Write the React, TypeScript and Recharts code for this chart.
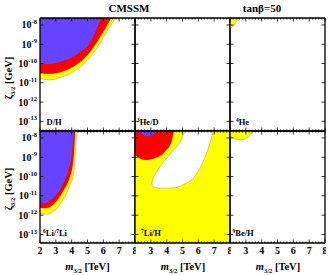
import React from "react"
import { ComposedChart, Area, XAxis, YAxis } from "recharts"

// all y values are log10 of zeta_3/2 in GeV, x values are m_3/2 in TeV
const Y_TOP = -7.64

// D/H
const dhYellowX = [2, 2.6, 3.44, 4.29, 5.02, 5.65, 6.28, 6.77]
const dhYellowLow = [-10.76, -10.85, -10.68, -10.33, -9.81, -9.12, -8.26, -7.64]
const dhRedX = [2, 2.6, 3.44, 4.29, 4.92, 5.55, 6.07, 6.5]
const dhRedLow = [-10.5, -10.54, -10.42, -10.07, -9.64, -8.95, -8.26, -7.64]
const dhBlueX = [2, 2.6, 3.65, 4.5, 5.13, 5.55, 5.87]
const dhBlueLow = [-10.0, -10.02, -9.81, -9.43, -8.95, -8.26, -7.64]

// 4He
const he4YellowX = [2, 2.2, 2.35, 2.53]
const he4YellowLow = [-8.17, -8.05, -7.9, -7.64]
const he4RedX = [2, 2.06, 2.1]
const he4RedLow = [-7.85, -7.75, -7.64]

// 6Li/7Li
const li6YellowX = [2, 2.39, 2.81, 3.44, 3.86, 4.14, 4.24, 4.33]
const li6YellowLow = [-11.9, -11.95, -11.82, -11.21, -10.52, -9.75, -8.71, -7.64]
const li6RedX = [2, 2.39, 2.81, 3.44, 3.86, 4.07, 4.18, 4.22]
const li6RedLow = [-11.61, -11.64, -11.47, -10.78, -10.09, -9.4, -8.36, -7.64]
const li6BlueX = [2, 2.28, 2.6, 3.02, 3.44, 3.76, 3.97, 4.07, 4.14]
const li6BlueLow = [-11.3, -11.38, -11.26, -10.95, -10.44, -9.75, -9.05, -8.36, -7.64]

// 7Li/H
const li7YellowX = [2, 8]
const li7YellowLow = [-13.5, -13.5]
const li7HoleX = [3.05, 3.16, 3.3, 3.6, 4.0, 4.45, 4.9, 5.2, 5.6, 6.2, 6.6, 6.95]
const li7HoleLow = [-10.35, -10.5, -10.56, -10.6, -10.6, -10.58, -10.48, -10.35, -10.15, -9.4, -8.6, -7.64]
const li7HoleHigh = [-10.35, -10.05, -9.85, -9.45, -9.05, -8.6, -8.15, -7.64, -7.64, -7.64, -7.64, -7.64]
const li7RedX = [2, 2.63, 3.26, 3.89, 4.31, 4.45]
const li7RedLow = [-8.88, -9.14, -9.05, -8.71, -8.19, -7.64]
const li7BlueX = [2.25, 2.5, 2.8, 3.1, 3.4]
const li7BlueLow = [-7.64, -7.83, -7.9, -7.83, -7.64]

// 9Be/H
const be9YellowX = [2, 2.3, 2.65, 3.0, 3.25, 3.45]
const be9YellowLow = [-7.9, -8.05, -8.1, -8.02, -7.88, -7.64]

const decadeTicks = [-13, -12, -11, -10, -9, -8]
const massTicks = Array.from({ length: 31 }, (_, i) => Math.round((2 + i * 0.2) * 10) / 10)

const BLUE = "#6644ff"
const RED = "#ff0000"
const YELLOW = "#ffff00"
const FONT = "'Liberation Serif', 'Times New Roman', serif"

// geometry
const PLOT_X = [40, 135, 230]
const PLOT_W = 95
const PLOT_Y = [18, 131]
const PLOT_H = [113, 112]
const Y_MIN = [-13.5, -13.44]
const LEFT_W = 40
const RIGHT_W = 1
const TOP_H = 1
const BOTTOM_H = 30

const above = (xs: number[], lows: number[]) => xs.map((x, i) => ({ x, lo: lows[i], hi: Y_TOP }))
const band = (xs: number[], lows: number[], highs: number[]) => xs.map((x, i) => ({ x, lo: lows[i], hi: highs[i] }))

type Region = { data: { x: number; lo: number; hi: number }[]; fill: string; stroke?: string }

const panels: { col: number; row: number; regions: Region[] }[] = [
  {
    col: 0,
    row: 0,
    regions: [
      { data: above(dhYellowX, dhYellowLow), fill: YELLOW, stroke: "#a8a850" },
      { data: above(dhRedX, dhRedLow), fill: RED },
      { data: above(dhBlueX, dhBlueLow), fill: BLUE },
    ],
  },
  { col: 1, row: 0, regions: [] },
  {
    col: 2,
    row: 0,
    regions: [
      { data: above(he4YellowX, he4YellowLow), fill: YELLOW, stroke: "#a8a850" },
      { data: above(he4RedX, he4RedLow), fill: RED },
    ],
  },
  {
    col: 0,
    row: 1,
    regions: [
      { data: above(li6YellowX, li6YellowLow), fill: YELLOW, stroke: "#a8a850" },
      { data: above(li6RedX, li6RedLow), fill: RED },
      { data: above(li6BlueX, li6BlueLow), fill: BLUE },
    ],
  },
  {
    col: 1,
    row: 1,
    regions: [
      { data: above(li7YellowX, li7YellowLow), fill: YELLOW },
      { data: band(li7HoleX, li7HoleLow, li7HoleHigh), fill: "#ffffff", stroke: "#a8a870" },
      { data: above(li7RedX, li7RedLow), fill: RED },
      { data: above(li7BlueX, li7BlueLow), fill: BLUE },
    ],
  },
  {
    col: 2,
    row: 1,
    regions: [{ data: above(be9YellowX, be9YellowLow), fill: YELLOW, stroke: "#a8a850" }],
  },
]

function Panel({ col, row, regions }: { col: number; row: number; regions: Region[] }) {
  const plotH = PLOT_H[row]
  const plotBottom = TOP_H + plotH
  const plotRight = LEFT_W + PLOT_W
  const axisLine = { stroke: "#000", strokeWidth: 1.3 }

  const bottomTick = (p: any) => {
    const v = p.payload.value
    const major = Math.abs(v - Math.round(v)) < 1e-6
    const showLabel = row === 1 && major && (col === 0 || v !== 2)
    return (
      <g>
        <line x1={p.x} x2={p.x} y1={plotBottom} y2={plotBottom - (major ? 3.5 : 1.5)} stroke="#000" strokeWidth={0.8} />
        {showLabel && (
          <text x={p.x} y={plotBottom + 11} textAnchor="middle" fontSize={10} fontWeight="bold" fontFamily={FONT} fill="#000">
            {v}
          </text>
        )}
      </g>
    )
  }
  const topTick = (p: any) => {
    const v = p.payload.value
    const major = Math.abs(v - Math.round(v)) < 1e-6
    return <line x1={p.x} x2={p.x} y1={TOP_H} y2={TOP_H + (major ? 3.5 : 1.5)} stroke="#000" strokeWidth={0.8} />
  }
  const leftTick = (p: any) => {
    const v = p.payload.value
    return (
      <g>
        <line x1={LEFT_W} x2={LEFT_W + 3.5} y1={p.y} y2={p.y} stroke="#000" strokeWidth={0.8} />
        {col === 0 && (
          <text x={LEFT_W - 3} y={p.y + 3.5} textAnchor="end" fontSize={10} fontWeight="bold" fontFamily={FONT} fill="#000">
            10
            <tspan fontSize={6.5} dy={-4.5}>
              {v}
            </tspan>
          </text>
        )}
      </g>
    )
  }
  const rightTick = (p: any) => (
    <line x1={plotRight} x2={plotRight - 3.5} y1={p.y} y2={p.y} stroke="#000" strokeWidth={0.8} />
  )

  return (
    <div style={{ position: "absolute", left: PLOT_X[col] - LEFT_W, top: PLOT_Y[row] - TOP_H }}>
      <ComposedChart
        width={LEFT_W + PLOT_W + RIGHT_W}
        height={TOP_H + plotH + BOTTOM_H}
        margin={{ top: 0, right: 0, bottom: 0, left: 0 }}
      >
        <XAxis
          xAxisId="b"
          dataKey="x"
          type="number"
          domain={[2, 8]}
          allowDataOverflow
          ticks={massTicks}
          interval={0}
          height={BOTTOM_H}
          tickLine={false}
          tickSize={0}
          axisLine={axisLine}
          tick={bottomTick}
        />
        <XAxis
          xAxisId="t"
          dataKey="x"
          type="number"
          orientation="top"
          domain={[2, 8]}
          allowDataOverflow
          ticks={massTicks}
          interval={0}
          height={TOP_H}
          tickLine={false}
          tickSize={0}
          axisLine={axisLine}
          tick={topTick}
        />
        <YAxis
          yAxisId="l"
          type="number"
          domain={[Y_MIN[row], Y_TOP]}
          allowDataOverflow
          ticks={decadeTicks}
          interval={0}
          width={LEFT_W}
          tickLine={false}
          tickSize={0}
          axisLine={axisLine}
          tick={leftTick}
        />
        <YAxis
          yAxisId="r"
          type="number"
          orientation="right"
          domain={[Y_MIN[row], Y_TOP]}
          allowDataOverflow
          ticks={decadeTicks}
          interval={0}
          width={RIGHT_W}
          tickLine={false}
          tickSize={0}
          axisLine={axisLine}
          tick={rightTick}
        />
        {regions.map((r, i) => (
          <Area
            key={i}
            xAxisId="b"
            yAxisId="l"
            data={r.data}
            dataKey={(d: any) => [d.lo, d.hi]}
            type="monotone"
            fill={r.fill}
            fillOpacity={1}
            stroke={r.stroke ?? "none"}
            strokeWidth={0.6}
            isAnimationActive={false}
            dot={false}
            activeDot={false}
          />
        ))}
      </ComposedChart>
    </div>
  )
}

const panelLabels = [
  { x: 46.5, y: 124.5, sup: "", text: "D/H" },
  { x: 137, y: 124.5, sup: "3", text: "He/D" },
  { x: 236, y: 124.5, sup: "4", text: "He" },
  { x: 43, y: 235.5, sup: "6", text: "Li/", sup2: "7", text2: "Li" },
  { x: 141, y: 235.5, sup: "7", text: "Li/H" },
  { x: 232.5, y: 235.5, sup: "9", text: "Be/H" },
]

export default function App() {
  const textProps = { fontFamily: FONT, fontWeight: "bold" as const, fill: "#000" }
  return (
    <div style={{ position: "absolute", left: 0, top: 0, width: 328, height: 275, background: "#fff" }}>
      {panels.map((p, i) => (
        <Panel key={i} col={p.col} row={p.row} regions={p.regions} />
      ))}
      <svg width={328} height={275} style={{ position: "absolute", left: 0, top: 0, pointerEvents: "none" }}>
        <text x={129} y={11.5} textAnchor="middle" fontSize={11} {...textProps}>
          CMSSM
        </text>
        <text x={262} y={11.5} textAnchor="middle" fontSize={11} {...textProps}>
          tanβ=50
        </text>
        {[78, 189].map((cy) => (
          <text key={cy} transform={`translate(12,${cy}) rotate(-90)`} textAnchor="middle" fontSize={10.5} {...textProps}>
            ζ
            <tspan fontSize={6.5} dy={2.5}>
              3/2
            </tspan>
            <tspan dy={-2.5}> [GeV]</tspan>
          </text>
        ))}
        {[87.5, 183, 278].map((cx) => (
          <text key={cx} x={cx} y={270} textAnchor="middle" fontSize={10.5} {...textProps}>
            <tspan fontStyle="italic">m</tspan>
            <tspan fontSize={6.5} dy={2.5}>
              3/2
            </tspan>
            <tspan dy={-2.5}> [TeV]</tspan>
          </text>
        ))}
        {panelLabels.map((l, i) => (
          <text key={i} x={l.x} y={l.y} fontSize={8.5} {...textProps}>
            {l.sup && (
              <tspan fontSize={5.5} dy={-3}>
                {l.sup}
              </tspan>
            )}
            <tspan dy={l.sup ? 3 : 0}>{l.text}</tspan>
            {l.sup2 && (
              <tspan fontSize={5.5} dy={-3}>
                {l.sup2}
              </tspan>
            )}
            {l.text2 && <tspan dy={3}>{l.text2}</tspan>}
          </text>
        ))}
      </svg>
    </div>
  )
}
